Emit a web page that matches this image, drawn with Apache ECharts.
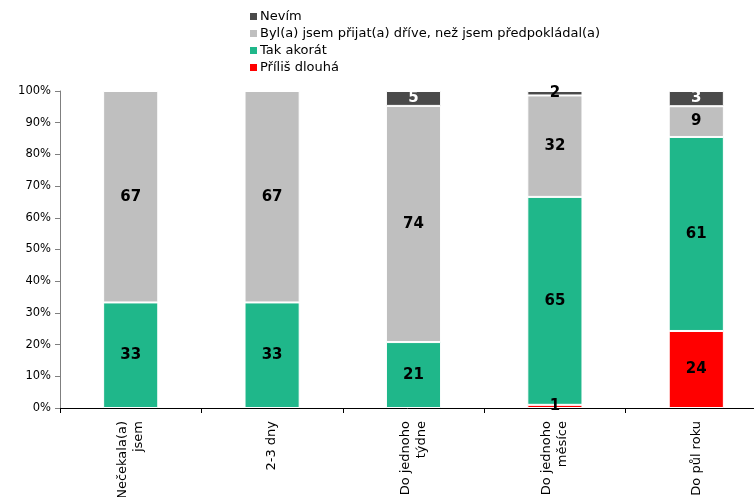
<!DOCTYPE html>
<html><head><meta charset="utf-8">
<script src="https://cdn.jsdelivr.net/npm/echarts@6/dist/echarts.min.js"></script>
<style>html,body{margin:0;padding:0;background:#fff}#c{width:754px;height:497px}</style>
</head><body><div id="c"></div>
<script>
const categories = ["Nečekala(a)\njsem", "2-3 dny", "Do jednoho\ntýdne", "Do jednoho\nměsíce", "Do půl roku"];
const seriesNames = ["Příliš dlouhá", "Tak akorát", "Byl(a) jsem přijat(a) dříve, než jsem předpokládal(a)", "Nevím"];
// printed data labels
const prilisDlouha = [null, null, null, 1, 24];
const takAkorat = [33, 33, 21, 65, 61];
const bylPrijat = [67, 67, 74, 32, 9];
const nevim = [null, null, 5, 2, 3];
// segment heights (% of column)
const prilisDlouhaShare = [null, null, null, 1, 24.3];
const takAkoratShare = [33.3, 33.3, 20.8, 65.6, 61.2];
const bylPrijatShare = [66.7, 66.7, 74.5, 32, 9.7];
const nevimShare = [null, null, 4.7, 1.4, 4.8];
const yTicks = [0, 10, 20, 30, 40, 50, 60, 70, 80, 90, 100];

const labels = [prilisDlouha, takAkorat, bylPrijat, nevim];
const shares = [prilisDlouhaShare, takAkoratShare, bylPrijatShare, nevimShare];
const colors = ["#ff0000", "#1fb78a", "#bfbfbf", "#4a4a4a"];
const FONT = "DejaVu Sans";

const series = shares.map((arr, si) => ({
  name: seriesNames[si],
  type: "bar",
  stack: "all",
  barWidth: "39%",
  itemStyle: { color: colors[si], borderColor: "#fff", borderWidth: 1 },
  label: {
    show: true, position: "inside", fontFamily: FONT, fontWeight: "bold", fontSize: 15,
    formatter: p => labels[si][p.dataIndex]
  },
  data: arr.map((v, i) => {
    if (v == null) return null;
    const d = { value: v };
    d.label = { color: (si === 3 && labels[si][i] >= 3) ? "#fff" : "#000" };
    return d;
  })
}));

const chart = echarts.init(document.getElementById("c"));
chart.setOption({
  animation: false,
  textStyle: { fontFamily: FONT },
  legend: {
    orient: "vertical", left: 243, top: 5, itemGap: 4, itemWidth: 9, itemHeight: 9,
    icon: "rect",
    data: [seriesNames[3], seriesNames[2], seriesNames[1], seriesNames[0]],
    textStyle: { fontFamily: FONT, fontSize: 13, color: "#000", padding: [0, 0, 0, -3] }
  },
  grid: { left: 60, top: 91, width: 707, bottom: 89, containLabel: false, outerBoundsMode: "none" },
  xAxis: {
    type: "category", data: categories,
    axisLine: { lineStyle: { color: "#000", width: 1 } },
    axisTick: { show: true, length: 5, lineStyle: { color: "#000" } },
    axisLabel: { rotate: 90, fontFamily: FONT, fontSize: 13, color: "#000", margin: 13, lineHeight: 16 }
  },
  yAxis: {
    type: "value", min: 0, max: 100, interval: 10,
    axisLine: { show: true, lineStyle: { color: "#7f7f7f" } },
    axisTick: { show: true, length: 5, lineStyle: { color: "#7f7f7f" } },
    splitLine: { show: false },
    axisLabel: { fontFamily: FONT, fontSize: 11.5, color: "#000", margin: 9, formatter: v => yTicks.includes(v) ? v + "%" : "" }
  },
  series: series
});
</script></body></html>
